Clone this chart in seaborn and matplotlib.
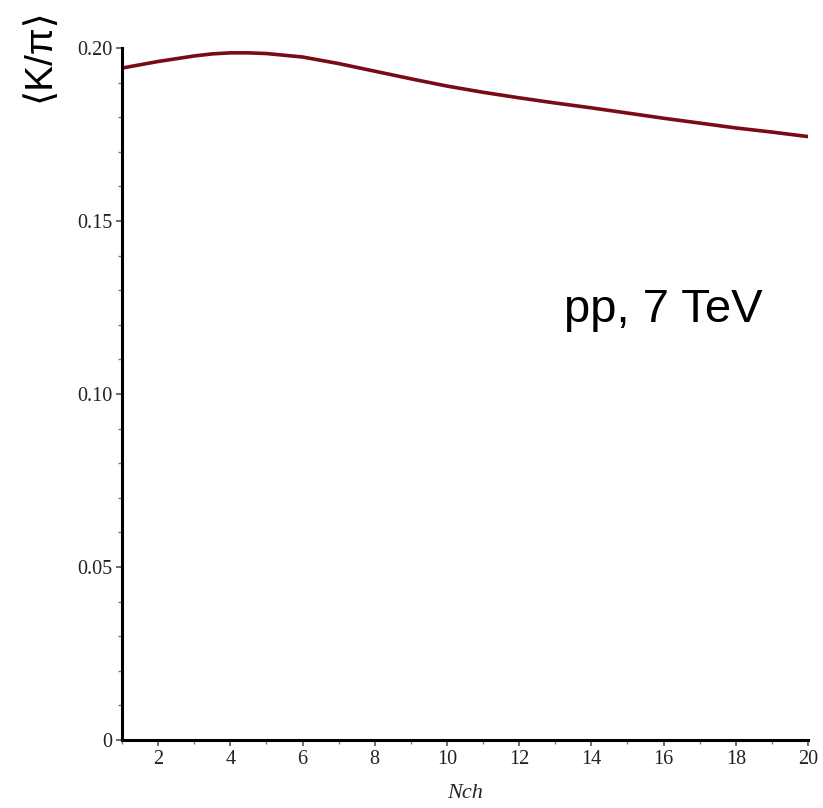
import matplotlib
matplotlib.use("Agg")
import matplotlib.pyplot as plt
import seaborn as sns
import pandas as pd
from matplotlib.ticker import MultipleLocator, FixedLocator, FixedFormatter

nch = [1, 2, 3, 3.5, 4, 4.5, 5, 6, 7, 8, 9, 10, 11, 12, 13, 14, 15, 16, 17, 18, 19, 20]
k_pi = [0.1942, 0.1961, 0.1977, 0.1983, 0.1986, 0.1986, 0.1984, 0.1974, 0.1955, 0.1933,
        0.1911, 0.1890, 0.1872, 0.1856, 0.1841, 0.1827, 0.1812, 0.1797, 0.1783, 0.1769,
        0.1757, 0.1744]
y_ticks = [0, 0.05, 0.10, 0.15, 0.20]
y_labels = ["0", "0.05", "0.10", "0.15", "0.20"]
x_ticks = [2, 4, 6, 8, 10, 12, 14, 16, 18, 20]

df = pd.DataFrame({"Nch": nch, "K/pi": k_pi})

sns.set_style("ticks")
fig = plt.figure(figsize=(8.23, 8.08), dpi=100)
ax = fig.add_axes([122/823, 1-740/808, (808-122)/823, (740-48)/808])

sns.lineplot(data=df, x="Nch", y="K/pi", ax=ax, color="#7a0a16", linewidth=2.6)

ax.set_xlim(1, 20)
ax.set_ylim(0, 0.20)
ax.xaxis.set_major_locator(FixedLocator(x_ticks))
ax.xaxis.set_minor_locator(MultipleLocator(1))
ax.yaxis.set_major_locator(FixedLocator(y_ticks))
ax.yaxis.set_major_formatter(FixedFormatter(y_labels))
ax.yaxis.set_minor_locator(MultipleLocator(0.01))

for s in ["top", "right"]:
    ax.spines[s].set_visible(False)
for s in ["left", "bottom"]:
    ax.spines[s].set_linewidth(2.2)
    ax.spines[s].set_color("black")

ax.tick_params(axis="both", which="major", length=4, width=1.2, color="#555555",
               labelsize=14.5, pad=3)
ax.tick_params(axis="both", which="minor", length=3, width=1.0, color="#777777")
for lab in ax.get_xticklabels() + ax.get_yticklabels():
    lab.set_family("Liberation Serif")
    lab.set_color("#222222")

ax.set_xlabel("Nch", family="Liberation Serif", style="italic", fontsize=16, labelpad=11)
ax.set_ylabel("")
fig.text(40/823, 1-55/808, "\u27e8K/\u03c0\u27e9", rotation=90, ha="center", va="center",
         fontsize=28, family=["Liberation Sans", "DejaVu Sans"], color="black")
fig.text(663/823, 1-310/808, "pp, 7 TeV", ha="center", va="center",
         fontsize=34, family="Liberation Sans", color="black")

fig.savefig("out.png", dpi=100, facecolor="white")
